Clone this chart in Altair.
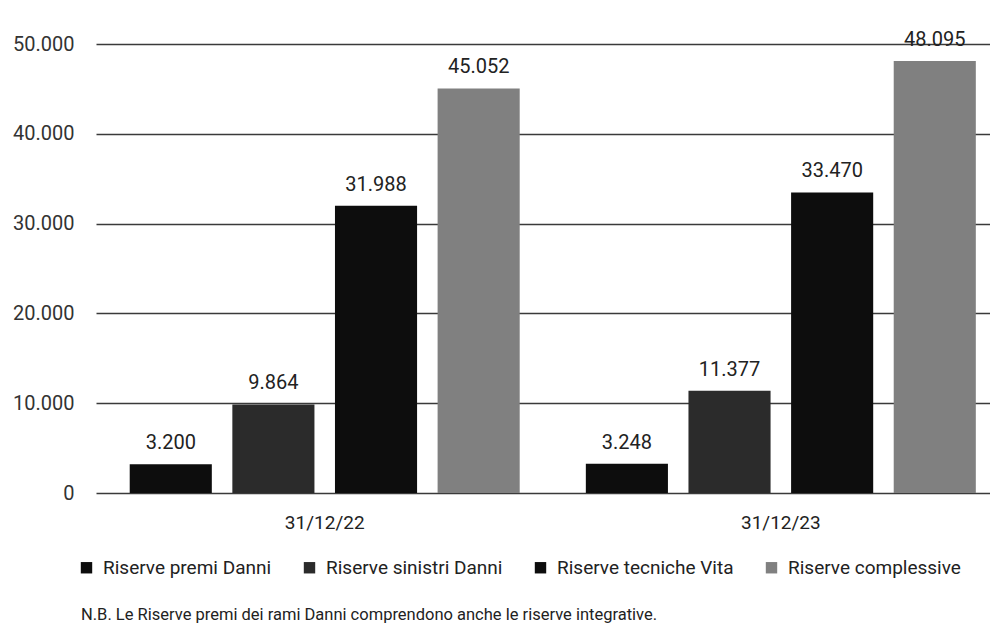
import altair as alt
import pandas as pd

dates = ["31/12/22", "31/12/23"]
series = ["Riserve premi Danni", "Riserve sinistri Danni", "Riserve tecniche Vita", "Riserve complessive"]
values_2022 = [3200, 9864, 31988, 45052]
values_2023 = [3248, 11377, 33470, 48095]
colors = ["#0d0d0d", "#2b2b2b", "#0d0d0d", "#808080"]
yticks = [0, 10000, 20000, 30000, 40000, 50000]
note = "N.B. Le Riserve premi dei rami Danni comprendono anche le riserve integrative."

rows = []
for d, vals in zip(dates, [values_2022, values_2023]):
    for s, v in zip(series, vals):
        rows.append({"data": d, "serie": s, "valore": v})
df = pd.DataFrame(rows)

FONT = "Roboto"
ITFMT = "replace(format(datum.value, ','), ',', '.')"

base = alt.Chart(df).transform_calculate(
    label="replace(format(datum.valore, ','), ',', '.')"
).encode(
    x=alt.X("data:N", sort=dates,
            scale=alt.Scale(paddingInner=0.1, paddingOuter=0.03, align=0.857),
            axis=alt.Axis(title=None, labelAngle=0, ticks=False, domain=False,
                          labelPadding=20, labelFontSize=19, labelColor="#222",
                          labelFont=FONT)),
    xOffset=alt.XOffset("serie:N", sort=series,
                        scale=alt.Scale(paddingInner=0.2, paddingOuter=0.1)),
)

bars = base.mark_bar().encode(
    y=alt.Y("valore:Q", scale=alt.Scale(domain=[0, 50000]),
            axis=alt.Axis(values=yticks, title=None, ticks=False, domain=False,
                          labelPadding=22, labelFontSize=20, labelColor="#333",
                          labelFont=FONT, gridColor="#3a3a3a", gridWidth=1.4,
                          labelExpr=ITFMT)),
    color=alt.Color("serie:N", sort=series,
                    scale=alt.Scale(domain=series, range=colors),
                    legend=alt.Legend(title=None, orient="none", legendX=-19, legendY=514,
                                      direction="horizontal", symbolType="square",
                                      symbolSize=130, symbolStrokeWidth=0,
                                      labelFontSize=19, labelFont=FONT, labelColor="#222",
                                      labelLimit=0, columnPadding=28, labelOffset=7)),
)

labels = base.mark_text(baseline="bottom", dy=-11, fontSize=20, font=FONT, color="#222").encode(
    y="valore:Q",
    text=alt.Text("label:N"),
)

chart = alt.layer(bars, labels).properties(
    width=894, height=449,
    padding={"left": 4, "top": 22, "right": 0, "bottom": 0},
    title=alt.TitleParams(note, orient="bottom", anchor="start", frame="group", fontSize=16.5,
                          font=FONT, fontWeight="normal", color="#222", dx=-15, offset=29),
).configure_view(stroke=None)

chart.save("out.html", embed_options={"renderer": "svg", "actions": False})
